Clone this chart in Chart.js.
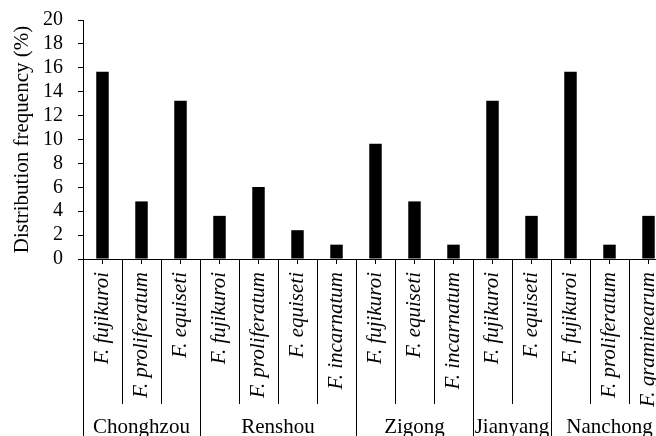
<!DOCTYPE html>
<html>
<head>
<meta charset="utf-8">
<script src="https://cdn.jsdelivr.net/npm/chart.js@4.4.1/dist/chart.umd.min.js"></script>
<style>
    html, body { margin: 0; padding: 0; background: #fff; overflow: hidden; }
    #wrap { width: 670px; height: 436px; }
</style>
</head>
<body>
<div id="wrap"><canvas id="freqChart"></canvas></div>
<script>
// species on the x axis, one per bar
const species = [
    "F. fujikuroi", "F. proliferatum", "F. equiseti",
    "F. fujikuroi", "F. proliferatum", "F. equiseti", "F. incarnatum",
    "F. fujikuroi", "F. equiseti", "F. incarnatum",
    "F. fujikuroi", "F. equiseti",
    "F. fujikuroi", "F. proliferatum", "F. graminearum"
];

// distribution frequency (%)
const frequency = [
    15.66, 4.82, 13.25,
    3.61, 6.02, 2.41, 1.20,
    9.64, 4.82, 1.20,
    13.25, 3.61,
    15.66, 1.20, 3.61
];

// sampling sites and how many bars each spans
const sites = ["Chonghzou", "Renshou", "Zigong", "Jianyang", "Nanchong"];
const siteSizes = [3, 4, 3, 2, 3];

const yTicks = [0, 2, 4, 6, 8, 10, 12, 14, 16, 18, 20];

const serif = "'Liberation Serif', 'Times New Roman', serif";

// separators between bars + site names under them
const siteAxisPlugin = {
    id: "siteAxis",
    afterDraw(chart) {
        const ctx = chart.ctx;
        const x = chart.scales.x;
        const area = chart.chartArea;
        const bottom = chart.height;
        const innerBottom = 404;

        const edge = i => {
            if (i === 0) return area.left;
            if (i === species.length) return area.right;
            return (x.getPixelForValue(i - 1) + x.getPixelForValue(i)) / 2;
        };

        const groupStarts = [0];
        siteSizes.forEach((n, k) => groupStarts.push(groupStarts[k] + n));

        ctx.save();
        ctx.strokeStyle = "#000";
        ctx.lineWidth = 1;
        for (let i = 0; i <= species.length; i++) {
            const px = Math.round(edge(i)) + 0.5;
            const isGroup = groupStarts.includes(i);
            ctx.beginPath();
            ctx.moveTo(px, area.bottom);
            ctx.lineTo(px, isGroup ? bottom : innerBottom);
            ctx.stroke();
        }

        ctx.fillStyle = "#000";
        ctx.font = "21px " + serif;
        ctx.textAlign = "center";
        ctx.textBaseline = "middle";
        sites.forEach((name, k) => {
            const cx = (edge(groupStarts[k]) + edge(groupStarts[k + 1])) / 2;
            ctx.fillText(name, cx, 427);
        });
        ctx.restore();
    }
};

new Chart(document.getElementById("freqChart").getContext("2d"), {
    type: "bar",
    data: {
        labels: species,
        datasets: [{
            data: frequency,
            backgroundColor: "#000",
            borderWidth: 0,
            barPercentage: 0.32,
            categoryPercentage: 1
        }]
    },
    options: {
        responsive: true,
        maintainAspectRatio: false,
        animation: false,
        layout: {
            padding: { top: 20, right: 2, left: 0, bottom: 0 }
        },
        plugins: {
            legend: { display: false },
            tooltip: { enabled: false }
        },
        scales: {
            x: {
                grid: {
                    drawOnChartArea: false,
                    drawTicks: true,
                    tickLength: 5,
                    color: "#000",
                    offset: false
                },
                border: { display: true, color: "#000", width: 1 },
                ticks: {
                    color: "#000",
                    font: { family: serif, size: 21, style: "italic" },
                    maxRotation: 90,
                    minRotation: 90,
                    autoSkip: false,
                    padding: 8
                },
                afterFit(scale) {
                    scale.height = 177;
                    scale.paddingLeft = 0;
                    scale.paddingRight = 0;
                }
            },
            y: {
                min: 0,
                max: 20,
                afterBuildTicks(scale) {
                    scale.ticks = yTicks.map(v => ({ value: v }));
                },
                grid: {
                    drawOnChartArea: false,
                    drawTicks: true,
                    tickLength: 5,
                    color: "#000"
                },
                border: { display: true, color: "#000", width: 1 },
                ticks: {
                    color: "#000",
                    font: { family: serif, size: 20 },
                    autoSkip: false,
                    padding: 15
                },
                title: {
                    display: true,
                    text: "Distribution frequency (%)",
                    color: "#000",
                    font: { family: serif, size: 21 },
                    padding: { top: 10, bottom: 0 }
                },
                afterFit(scale) {
                    scale.width = 83;
                    scale.paddingTop = 0;
                    scale.paddingBottom = 0;
                }
            }
        }
    },
    plugins: [siteAxisPlugin]
});
</script>
</body>
</html>
